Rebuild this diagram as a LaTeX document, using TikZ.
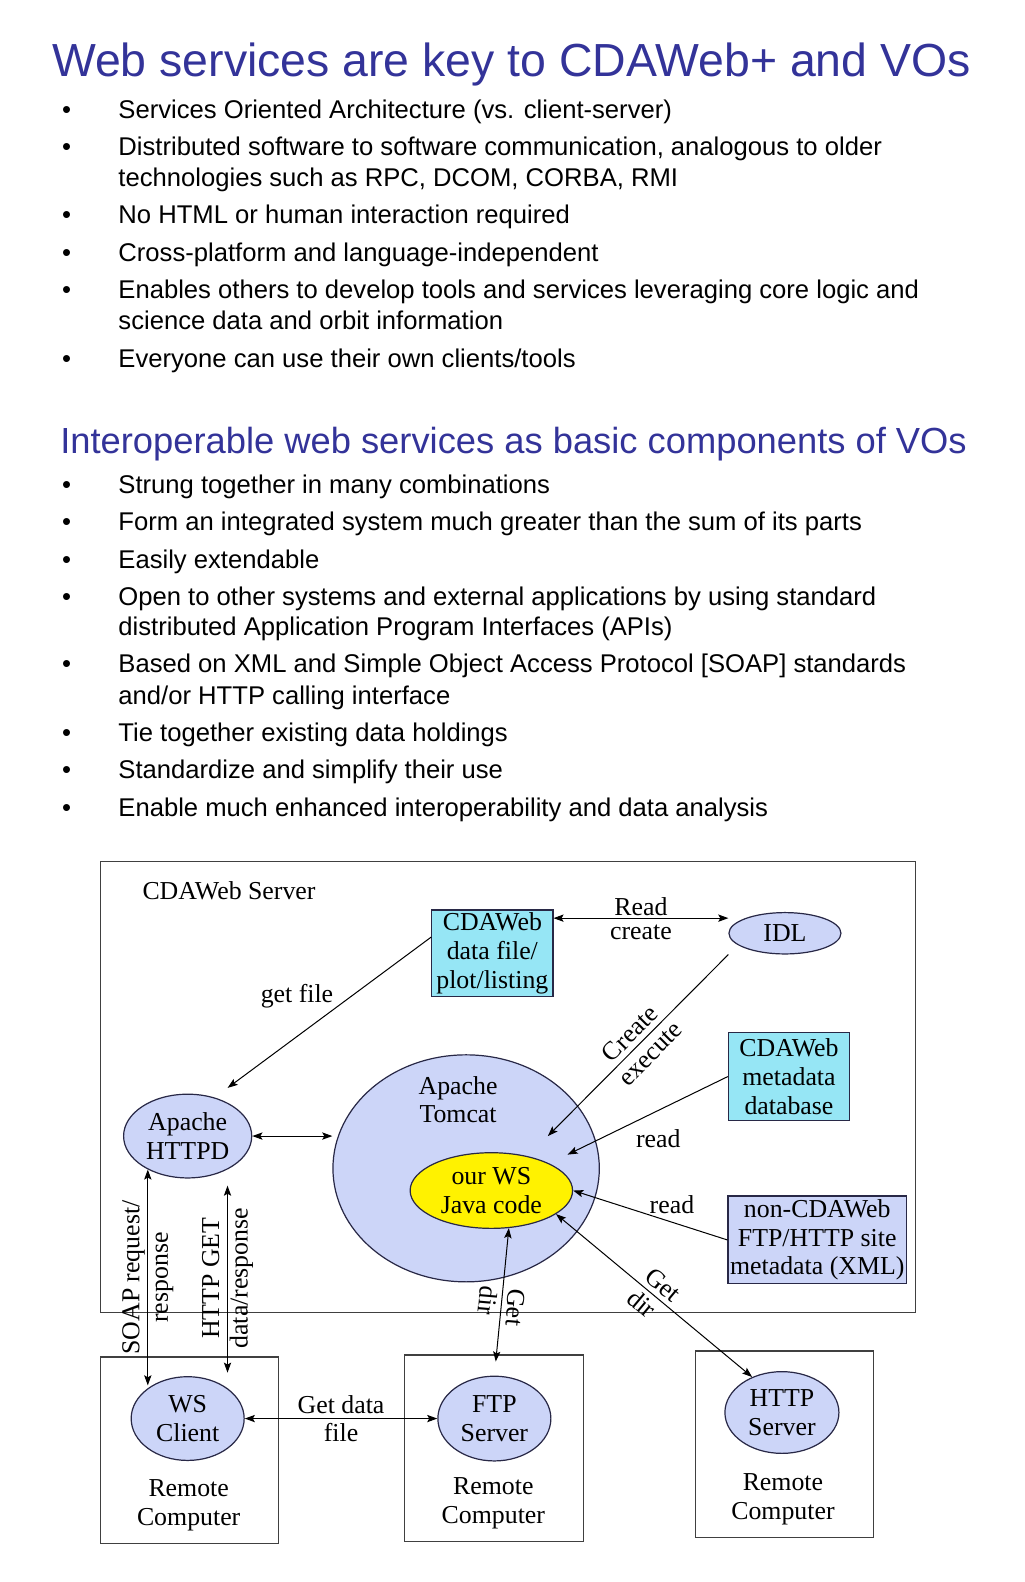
\documentclass[tikz,border=0pt]{standalone}
\usepackage{fontspec}
\setmainfont{Liberation Serif}
\setsansfont{Liberation Sans}
\usepackage{tikz}
\usetikzlibrary{positioning,shapes,arrows.meta}
\definecolor{titleblue}{RGB}{51,51,153}
\definecolor{lav}{RGB}{204,213,248}
\definecolor{cyanbox}{RGB}{150,230,245}
\definecolor{edge}{RGB}{40,40,70}

\begin{document}
\begin{tikzpicture}[x=0.5pt,y=-0.5pt,
    heading/.style={font=\sffamily\fontsize{23}{27}\selectfont,text=titleblue,anchor=base,inner sep=0pt},
    subheading/.style={font=\sffamily\fontsize{18}{21}\selectfont,text=titleblue,anchor=base,inner sep=0pt},
    bul/.style={font=\sffamily\fontsize{12.7}{15.5}\selectfont,anchor=base west,inner sep=0pt,
        execute at begin node={\llap{\textbullet\hspace{23.5pt}}}},
    cont/.style={font=\sffamily\fontsize{12.7}{15.5}\selectfont,anchor=base west,inner sep=0pt},
    lbl/.style={font=\fontsize{12.8}{14.2}\selectfont,align=center,inner sep=1pt},
    sqbox/.style={rectangle,draw=edge,line width=0.6pt,fill=cyanbox,align=center,inner sep=1pt,font=\fontsize{12.8}{14.2}\selectfont},
    oval/.style={ellipse,draw=edge,line width=0.6pt,fill=lav,align=center,inner sep=0pt,font=\fontsize{12.8}{14.2}\selectfont},
    frame/.style={rectangle,draw=black!75,line width=0.6pt},
    arrow/.style={-{Stealth[length=5pt,width=3.6pt,inset=1pt]},line width=0.5pt},
    biarrow/.style={{Stealth[length=5pt,width=3.6pt,inset=1pt]}-{Stealth[length=5pt,width=3.6pt,inset=1pt]},line width=0.5pt}]
    \useasboundingbox (0,0) rectangle (1015,1568);
    % slide text
    \node[heading] (title) at (507,76) {Web services are key to CDAWeb+ and VOs};
    \node[bul] (s1) at (117,117) {Services Oriented Architecture (vs. client-server)};
    \node[bul] (s2) at (117,154) {Distributed software to software communication, analogous to older};
    \node[cont] (s2b) at (117,185) {technologies such as RPC, DCOM, CORBA, RMI};
    \node[bul] (s3) at (117,222) {No HTML or human interaction required};
    \node[bul] (s4) at (117,259) {Cross-platform and language-independent};
    \node[bul] (s5) at (117,296) {Enables others to develop tools and services leveraging core logic and};
    \node[cont] (s5b) at (117,327) {science data and orbit information};
    \node[bul] (s6) at (117,364) {Everyone can use their own clients/tools};
    \node[subheading] (subtitle) at (509,449) {Interoperable web services as basic components of VOs};
    \node[bul] (v1) at (117,489) {Strung together in many combinations};
    \node[bul] (v2) at (117,526) {Form an integrated system much greater than the sum of its parts};
    \node[bul] (v3) at (117,563) {Easily extendable};
    \node[bul] (v4) at (117,600) {Open to other systems and external applications by using standard};
    \node[cont] (v4b) at (117,630) {distributed Application Program Interfaces (APIs)};
    \node[bul] (v5) at (117,667) {Based on XML and Simple Object Access Protocol [SOAP] standards};
    \node[cont] (v5b) at (117,698) {and/or HTTP calling interface};
    \node[bul] (v6) at (117,735) {Tie together existing data holdings};
    \node[bul] (v7) at (117,772) {Standardize and simplify their use};
    \node[bul] (v8) at (117,809) {Enable much enhanced interoperability and data analysis};
    % diagram
    \node[frame,minimum width=403.5pt,minimum height=223.5pt] (server) at (503.5,1077.5) {};
    \node[lbl] (servername) at (227,883) {CDAWeb Server};
    \node[sqbox,minimum width=60pt,minimum height=43pt] (dfile) at (488,945) {CDAWeb\\data file/\\plot/listing};
    \node[oval,minimum width=55.5pt,minimum height=20.5pt] (idl) at (778,925) {IDL};
    \node[sqbox,minimum width=60pt,minimum height=43.5pt] (meta) at (782,1067) {CDAWeb\\metadata\\database};
    \node[sqbox,fill=lav,minimum width=87.5pt,minimum height=43.5pt] (ncd) at (810,1229) {non-CDAWeb\\FTP/HTTP site\\metadata (XML)};
    \node[oval,minimum width=63.5pt,minimum height=41.5pt] (httpd) at (186,1126) {Apache\\HTTPD};
    \node[oval,minimum width=132pt,minimum height=112.5pt] (tomcat) at (462,1158) {};
    \node[lbl] (tomcatname) at (454,1090) {Apache\\Tomcat};
    \node[oval,fill=yellow,minimum width=80.5pt,minimum height=37.5pt] (java) at (487,1180) {our WS\\Java code};
    \coordinate (exectip) at (543,1126);
    \node[frame,minimum width=88pt,minimum height=92.5pt] (rc1) at (188,1437.5) {};
    \node[frame,minimum width=88.5pt,minimum height=92.5pt] (rc2) at (489.5,1435.5) {};
    \node[frame,minimum width=88.5pt,minimum height=92.5pt] (rc3) at (777.5,1431.5) {};
    \node[oval,minimum width=56pt,minimum height=41.5pt] (wsc) at (186,1406) {WS\\Client};
    \node[oval,minimum width=56pt,minimum height=42pt] (ftp) at (490,1406) {FTP\\Server};
    \node[oval,minimum width=56.5pt,minimum height=40.5pt] (http) at (775,1400) {HTTP\\Server};
    \node[lbl] (rc1name) at (187,1492) {Remote\\Computer};
    \node[lbl] (rc2name) at (489,1490) {Remote\\Computer};
    \node[lbl] (rc3name) at (776,1486) {Remote\\Computer};
    \draw[biarrow] (dfile.30) -- node[lbl,above]{Read} node[lbl,below=2pt]{create} (dfile.30 -| idl.west);
    \draw[arrow,shorten >=8pt] (dfile.165) -- node[lbl,pos=0.62,above=13pt]{get file} (httpd.55);
    \draw[biarrow] (httpd.east) -- (httpd.east -| tomcat.west);
    \draw[arrow] (idl.west |- idl.south) -- node[lbl,sloped,pos=0.49]{Create\\execute} (exectip);
    \draw[arrow,shorten >=10pt] (meta.west) -- node[lbl,pos=0.39,below=8pt]{read} (java.25);
    \draw[arrow] (ncd.west) -- node[lbl,pos=0.36,above=3pt]{read} (java.east);
    \draw[biarrow] (java.-20) -- node[lbl,sloped,align=left]{Get\\dir} (http.130);
    \draw[biarrow,shorten >=7pt] (java.-65) -- node[lbl,rotate=-95,align=left,pos=0.53]{Get\\dir} (ftp.north);
    \draw[biarrow] (httpd.220) -- node[lbl,rotate=90]{SOAP request/\\response} (httpd.220 |- wsc.137);
    \draw[biarrow,shorten <=8pt,shorten >=7pt] (httpd.320) -- node[lbl,rotate=90]{HTTP GET\\data/response} (httpd.320 |- wsc.40);
    \draw[biarrow] (wsc.east) -- node[lbl]{Get data\\file} (ftp.west);
\end{tikzpicture}
\end{document}
